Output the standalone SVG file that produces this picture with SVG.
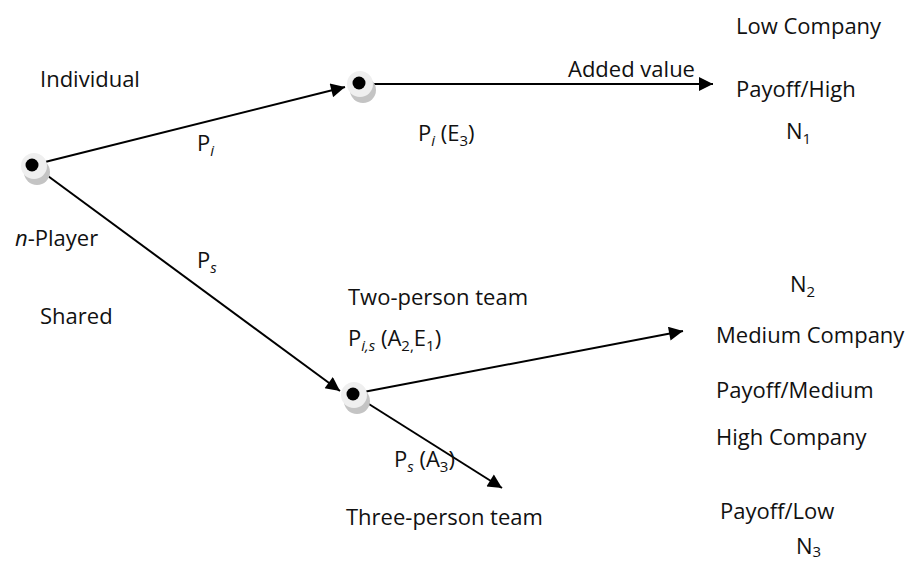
<svg xmlns="http://www.w3.org/2000/svg" width="915" height="561" viewBox="0 0 915 561">
<style>
text{font-family:"Open Sans","Noto Sans",sans-serif;font-size:22px;fill:#111}
.sub{font-size:15px}
.it{font-style:italic}
.edge{stroke:#000;stroke-width:2;fill:none;marker-end:url(#ah)}
.sh{fill:#c4c4c4}
.bg{fill:#efefef}
.dot{fill:#000}
</style>
<defs>
<marker id="ah" viewBox="0 0 10 10" refX="10" refY="5" markerWidth="8.5" markerHeight="7" orient="auto" markerUnits="strokeWidth">
<path d="M0,0 L10,5 L0,10 z" fill="#000"/>
</marker>
</defs>
<rect width="915" height="561" fill="#fff"/>
<g id="connectors">
<line class="edge" x1="33" y1="165" x2="345" y2="87"/>
<line class="edge" x1="33" y1="165" x2="340" y2="391"/>
<line class="edge" x1="359" y1="84" x2="713" y2="84"/>
<line class="edge" x1="353" y1="394" x2="683" y2="331"/>
<line class="edge" x1="353" y1="394" x2="502" y2="488"/>
</g>
<g id="n1">
<circle class="sh" cx="37" cy="172" r="13"/>
<circle class="bg" cx="34" cy="166" r="13"/>
<circle class="dot" cx="32" cy="165" r="6.5"/>
</g>
<g id="n2">
<circle class="sh" cx="363" cy="90" r="13"/>
<circle class="bg" cx="360" cy="84" r="13"/>
<circle class="dot" cx="359" cy="83" r="6.5"/>
</g>
<g id="n3">
<circle class="sh" cx="357" cy="401" r="13"/>
<circle class="bg" cx="354" cy="395" r="13"/>
<circle class="dot" cx="353" cy="394" r="6.5"/>
</g>
<g id="labels">
<text x="40" y="87">Individual</text>
<text x="15" y="246"><tspan class="it">n</tspan>-Player</text>
<text x="40" y="324">Shared</text>
<text x="197" y="151">P<tspan class="sub it" dy="5">i</tspan></text>
<text x="197" y="268">P<tspan class="sub it" dy="5">s</tspan></text>
<text x="568" y="77">Added value</text>
<text x="418" y="141">P<tspan class="sub it" dy="5">i</tspan><tspan dy="-5"> (E</tspan><tspan class="sub" dy="5">3</tspan><tspan dy="-5">)</tspan></text>
<text x="736" y="34">Low Company</text>
<text x="736" y="97">Payoff/High</text>
<text x="786" y="139">N<tspan class="sub" dy="5">1</tspan></text>
<text x="790" y="292">N<tspan class="sub" dy="5">2</tspan></text>
<text x="348" y="305">Two-person team</text>
<text x="348" y="346">P<tspan class="sub it" dy="5">i,s</tspan><tspan dy="-5"> (A</tspan><tspan class="sub" dy="5">2,</tspan><tspan dy="-5">E</tspan><tspan class="sub" dy="5">1</tspan><tspan dy="-5">)</tspan></text>
<text x="716" y="343">Medium Company</text>
<text x="716" y="398">Payoff/Medium</text>
<text x="716" y="445">High Company</text>
<text x="394" y="467">P<tspan class="sub it" dy="5">s</tspan><tspan dy="-5"> (A</tspan><tspan class="sub" dy="5">3</tspan><tspan dy="-5">)</tspan></text>
<text x="720" y="519">Payoff/Low</text>
<text x="346" y="525">Three-person team</text>
<text x="796" y="554">N<tspan class="sub" dy="3">3</tspan></text>
</g>
</svg>
